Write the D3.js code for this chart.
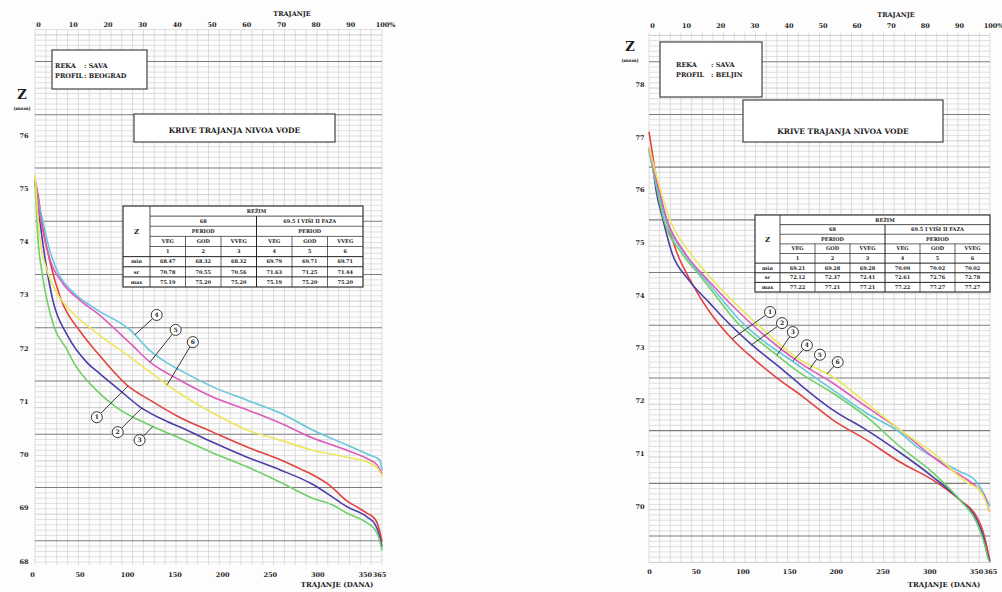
<!DOCTYPE html>
<html><head><meta charset="utf-8">
<script src="https://cdn.jsdelivr.net/npm/d3@7"></script>
<style>
body{margin:0;background:#fff}
svg{display:block}
text{font-family:"DejaVu Serif","Liberation Serif",serif;font-weight:bold;fill:#1e1e1e}
</style>
</head><body>
<svg width="1002" height="592"></svg>
<script>
// ---------------- DATA ----------------
const pctTicks = [0,10,20,30,40,50,60,70,80,90,100];
const pctLabels = ["0","10","20","30","40","50","60","70","80","90","100%"];
const dayTicks = [0,50,100,150,200,250,300,350,365];
const zTicksBG = [68,69,70,71,72,73,74,75,76];
const zTicksBJ = [70,71,72,73,74,75,76,77,78];
const curveIds = ["1","2","3","4","5","6"];
const curveColors = ["#e2433f","#4a3fa8","#70cf68","#66c6dc","#de5abc","#ece75c"];

// BEOGRAD  [day, Z]
const bg1 = [[0,75.15],[3,74.9],[7,74.4],[16,73.6],[27,72.93],[48,72.3],[66,71.9],[97,71.3],[121,71.02],[152,70.7],[187,70.42],[223,70.14],[258,69.9],[279,69.73],[292,69.62],[310,69.42],[328,69.13],[340,69.0],[349,68.9],[358,68.78],[362,68.6],[365,68.36]];
const bg2 = [[0,75.1],[2,74.85],[5,74.4],[12.6,73.46],[19,72.88],[34,72.24],[55,71.72],[68,71.52],[89,71.21],[110,70.9],[139,70.62],[152,70.52],[187,70.23],[223,69.95],[258,69.71],[292,69.44],[313,69.2],[328,69.02],[349,68.83],[358,68.68],[362,68.5],[365,68.26]];
const bg3 = [[0,75.1],[1.5,74.6],[3,74.08],[7,73.46],[12.6,72.9],[20,72.4],[34,71.96],[40,71.75],[65,71.2],[86,70.88],[121,70.55],[152,70.31],[187,70.03],[223,69.77],[258,69.48],[292,69.18],[313,69.05],[328,68.9],[349,68.72],[358,68.58],[362,68.42],[365,68.2]];
const bg4 = [[0,75.2],[3,74.8],[8,74.4],[16,73.8],[26,73.35],[40,73.05],[65,72.72],[100,72.34],[121,71.95],[139,71.72],[152,71.59],[187,71.27],[223,71.02],[258,70.78],[292,70.46],[328,70.18],[352,69.99],[360,69.93],[363,69.88],[365,69.7]];
const bg5 = [[0,75.15],[3,74.75],[8,74.22],[16,73.65],[29,73.22],[47,72.9],[65,72.66],[100,72.09],[122,71.72],[152,71.4],[187,71.08],[223,70.84],[258,70.59],[292,70.31],[328,70.08],[352,69.9],[360,69.8],[365,69.64]];
const bg6 = [[0,75.25],[2,74.7],[5,74.08],[12.6,73.46],[23,73.03],[37,72.71],[65,72.28],[100,71.83],[139,71.31],[152,71.15],[187,70.78],[223,70.46],[258,70.27],[292,70.08],[328,69.95],[352,69.84],[360,69.75],[365,69.6]];

// BELJIN  [day, Z]
const bj1 = [[0,77.1],[3,76.76],[6.4,76.38],[10.5,76.0],[17,75.52],[30,74.8],[44,74.29],[55,73.95],[67.5,73.62],[90,73.15],[113.5,72.77],[140,72.39],[162,72.11],[197,71.63],[233,71.25],[269,70.83],[304,70.49],[333,70.11],[351,69.79],[358,69.49],[362,69.2],[365,68.95]];
const bj2 = [[0,76.8],[4.3,76.4],[7.5,76.0],[15,75.43],[24.6,74.8],[42,74.3],[65,73.85],[78,73.6],[108,73.09],[143.5,72.58],[162,72.3],[197,71.82],[233,71.44],[269,71.01],[304,70.55],[333,70.11],[351,69.73],[358,69.41],[362,69.1],[365,68.94]];
const bj3 = [[0,76.75],[4.3,76.38],[8.6,76.0],[16,75.43],[35,74.8],[55,74.36],[71,74.0],[92,73.53],[130,72.96],[162,72.52],[197,72.14],[233,71.69],[269,71.12],[304,70.63],[333,70.11],[351,69.68],[360,69.22],[363,69.0],[365,68.94]];
const bj4 = [[0,76.75],[9.6,76.0],[18,75.43],[37.5,74.8],[65,74.2],[97,73.53],[162,72.64],[197,72.2],[233,71.76],[269,71.39],[287,71.12],[317,70.8],[333,70.65],[349,70.49],[358,70.25],[362,70.1],[365,70.0]];
const bj5 = [[0,76.78],[10.7,76.0],[19.3,75.43],[38.5,74.8],[65,74.25],[105,73.53],[162,72.71],[197,72.33],[233,71.88],[269,71.44],[304,70.93],[319,70.74],[338,70.53],[354,70.3],[361,70.11],[364,69.89]];
const bj6 = [[0,76.8],[11.8,76.03],[22.5,75.43],[44,74.8],[65,74.35],[111,73.53],[162,72.77],[197,72.45],[233,71.95],[269,71.44],[304,71.01],[340.5,70.44],[354,70.3],[360,70.11],[364,69.89]];

// table
const regimes = ["68","69.5  I  VIŠI  II  FAZA"];
const periods = ["VEG","GOD","VVEG"];
const statRows = ["min","sr","max"];
const bgMin = ["68.47","68.32","68.32","69.79","69.71","69.71"];
const bgAvg = ["70.78","70.55","70.56","71.63","71.25","71.44"];
const bgMax = ["75.19","75.20","75.20","75.19","75.20","75.20"];
const bjMin = ["69.21","69.28","69.28","70.09","70.02","70.02"];
const bjAvg = ["72.12","72.37","72.41","72.61","72.76","72.78"];
const bjMax = ["77.22","77.21","77.21","77.22","77.27","77.27"];

// curve label annotations: circle [day, Z] and leader target day on the curve
const bgLabelPos = [[65,70.70],[87,70.42],[110,70.27],[128,72.62],[148,72.34],[166,72.11]];
const bgLabelTarget = [98,112.5,124,105,121,139];
const bjLabelPos = [[129.6,73.68],[142.4,73.47],[154,73.30],[169,73.05],[183,72.87],[202,72.73]];
const bjLabelTarget = [89,110,137,154,172,190.6];

// ---------------- DRAW ----------------
const svg = d3.select("svg");
svg.append("rect").attr("width",1002).attr("height",592).attr("fill","#fdfdfd");

function zAt(data, d){
  const i = d3.bisector(p=>p[0]).left(data, d);
  if (i<=0) return data[0][1];
  if (i>=data.length) return data[data.length-1][1];
  const a=data[i-1], b=data[i];
  return a[1]+(b[1]-a[1])*(d-a[0])/(b[0]-a[0]);
}

function drawTable(g, o, mins, avgs, maxs){
  const rh = o.h/8, cw = (o.w-o.c0)/6, xd = o.x+o.c0;
  const t = g.append("g");
  t.append("rect").attr("x",o.x).attr("y",o.y).attr("width",o.w).attr("height",o.h)
    .attr("fill","#fff").attr("stroke","#222").attr("stroke-width",1.1);
  const L = (x1,y1,x2,y2,w)=>t.append("line").attr("x1",x1).attr("y1",y1).attr("x2",x2).attr("y2",y2)
    .attr("stroke","#222").attr("stroke-width",w||0.8);
  L(xd,o.y,xd,o.y+o.h);
  for(let r=1;r<=4;r++) L(xd,o.y+r*rh,o.x+o.w,o.y+r*rh, r===1?0.8:0.7);
  for(let r=5;r<=7;r++) L(o.x,o.y+r*rh,o.x+o.w,o.y+r*rh, 1);
  L(xd+3*cw,o.y+rh,xd+3*cw,o.y+o.h,1);
  [1,2,4,5].forEach(c=>L(xd+c*cw,o.y+3*rh,xd+c*cw,o.y+o.h,0.7));
  const T=(x,y,s,fs)=>t.append("text").attr("x",x).attr("y",y).attr("text-anchor","middle")
    .attr("dy","0.35em").attr("font-size",fs||5).text(s);
  T(xd+3*cw, o.y+0.5*rh, "REŽIM");
  regimes.forEach((s,i)=>T(xd+(i*3+1.5)*cw, o.y+1.5*rh, s));
  [0,1].forEach(i=>T(xd+(i*3+1.5)*cw, o.y+2.5*rh, "PERIOD"));
  for(let c=0;c<6;c++){
    T(xd+(c+0.5)*cw, o.y+3.5*rh, periods[c%3]);
    T(xd+(c+0.5)*cw, o.y+4.5*rh, curveIds[c]);
    T(xd+(c+0.5)*cw, o.y+5.5*rh, mins[c]);
    T(xd+(c+0.5)*cw, o.y+6.5*rh, avgs[c]);
    T(xd+(c+0.5)*cw, o.y+7.5*rh, maxs[c]);
  }
  T(o.x+o.c0/2, o.y+2.5*rh, "Z", 7);
  statRows.forEach((s,i)=>T(o.x+o.c0/2, o.y+(5.5+i)*rh, s));
}

function chart(o){
  const x = d3.scaleLinear().domain([0,365]).range([o.x0,o.x1]);
  const pct = d3.scaleLinear().domain([0,100]).range([o.x0,o.x1]);
  const y = d3.scaleLinear().domain(o.zDomain).range(o.yRange);
  const g = svg.append("g");

  // grid
  const gg = g.append("g");
  const vDays = d3.range(0, 365.001, 365/32);
  gg.selectAll("line.v").data(vDays).join("line").attr("class","v")
    .attr("x1",d=>x(d)).attr("x2",d=>x(d)).attr("y1",y(o.zHi)).attr("y2",y(o.zLo))
    .attr("stroke","#cfcfcf").attr("stroke-width",0.7);
  const hz=[];
  for(let n=Math.ceil((o.zLo-o.off)*10); n<=Math.floor((o.zHi-o.off)*10); n++) hz.push({z:o.off+n/10,n});
  gg.selectAll("line.h").data(hz).join("line").attr("class","h")
    .attr("x1",o.x0).attr("x2",o.x1).attr("y1",d=>y(d.z)).attr("y2",d=>y(d.z))
    .attr("stroke",d=>d.n%10===0?"#7c7c7c":(d.n%5===0?"#b9b9b9":"#d3d3d3"))
    .attr("stroke-width",d=>d.n%10===0?1.1:0.7);

  // axes
  const styleAxis = (a,fs)=>{ a.select(".domain").remove();
    a.attr("font-family",'"DejaVu Serif",serif').attr("font-weight","bold");
    a.selectAll("text").attr("font-size",fs).attr("fill","#1e1e1e"); };
  g.append("g").attr("transform",`translate(3,${o.topY})`)
    .call(d3.axisTop(pct).tickValues(pctTicks).tickFormat((d,i)=>pctLabels[i]).tickSize(0).tickPadding(0))
    .call(a=>styleAxis(a,6.5));
  g.append("g").attr("transform",`translate(${o.botDx},${o.botY})`)
    .call(d3.axisBottom(x).tickValues(dayTicks).tickFormat(d3.format("d")).tickSize(0).tickPadding(0))
    .call(a=>styleAxis(a,6.5));
  g.append("g").attr("transform",`translate(${o.yTickX},0)`)
    .call(d3.axisLeft(y).tickValues(o.zTicks).tickFormat(d3.format("d")).tickSize(0).tickPadding(0))
    .call(a=>{styleAxis(a,6.5); a.selectAll("text").attr("text-anchor","middle");});

  g.append("text").attr("x",o.trajX).attr("y",o.trajY).attr("text-anchor","middle").attr("font-size",6.5).text("TRAJANJE");
  g.append("text").attr("x",o.danaX).attr("y",585).attr("text-anchor","middle").attr("dy","0.35em").attr("font-size",7).text("TRAJANJE (DANA)");
  g.append("text").attr("x",o.zX).attr("y",o.zY).attr("text-anchor","middle").attr("dy","0.35em").attr("font-size",13).text("Z");
  g.append("text").attr("x",o.zX).attr("y",o.zY+14).attr("text-anchor","middle").attr("dy","0.35em").attr("font-size",4.5).text("(mnm)");

  // info box
  const ib=o.info;
  g.append("rect").attr("x",ib.x).attr("y",ib.y).attr("width",ib.w).attr("height",ib.h)
    .attr("fill","#fff").attr("stroke","#333").attr("stroke-width",1.1);
  [["REKA",": SAVA"],["PROFIL",": "+o.profil]].forEach((p,i)=>{
    g.append("text").attr("x",ib.tx).attr("y",ib.ty+i*10).attr("dy","0.35em").attr("font-size",6.5).text(p[0]);
    g.append("text").attr("x",ib.cx).attr("y",ib.ty+i*10).attr("dy","0.35em").attr("font-size",6.5).text(p[1]);
  });
  // title box
  const tb=o.title;
  g.append("rect").attr("x",tb.x).attr("y",tb.y).attr("width",tb.w).attr("height",tb.h)
    .attr("fill","#fff").attr("stroke","#333").attr("stroke-width",1.1);
  g.append("text").attr("x",tb.x+tb.w/2).attr("y",tb.ty).attr("text-anchor","middle").attr("dy","0.35em")
    .attr("font-size",7.5).text("KRIVE TRAJANJA NIVOA VODE");

  drawTable(g, o.table, o.mins, o.avgs, o.maxs);

  // curves
  const line = d3.line().x(d=>x(d[0])).y(d=>y(d[1])).curve(d3.curveMonotoneX);
  o.curves.forEach((c,i)=>{
    g.append("path").attr("d",line(c)).attr("fill","none").attr("stroke",curveColors[i])
      .attr("stroke-width",1.6).attr("stroke-linejoin","round");
  });

  // labels
  const r=5.5;
  o.labelPos.forEach((p,i)=>{
    const cx=x(p[0]), cy=y(p[1]);
    const td=o.labelTarget[i], tx=x(td), ty=y(zAt(o.curves[i],td));
    const dx=tx-cx, dy=ty-cy, len=Math.hypot(dx,dy);
    g.append("line").attr("x1",cx+dx/len*r).attr("y1",cy+dy/len*r).attr("x2",tx).attr("y2",ty)
      .attr("stroke","#222").attr("stroke-width",0.9);
    g.append("circle").attr("cx",cx).attr("cy",cy).attr("r",r).attr("fill","#fff")
      .attr("stroke","#222").attr("stroke-width",0.9);
    g.append("text").attr("x",cx).attr("y",cy).attr("text-anchor","middle").attr("dy","0.35em")
      .attr("font-size",6).text(curveIds[i]);
  });
}

chart({
  x0:35, x1:382, zDomain:[68,76], yRange:[561,135], zLo:67.92, zHi:77.98, off:0.38,
  zTicks:zTicksBG, topY:27, botY:572, botDx:-3, yTickX:24,
  trajX:292, trajY:16, danaX:337, zX:22, zY:94, profil:"BEOGRAD",
  info:{x:52,y:50,w:95,h:39,tx:55,cx:84,ty:66},
  title:{x:134,y:114,w:201,h:28,ty:130},
  table:{x:123,y:206,w:240,h:81,c0:27},
  mins:bgMin, avgs:bgAvg, maxs:bgMax,
  curves:[bg1,bg2,bg3,bg4,bg5,bg6], labelPos:bgLabelPos, labelTarget:bgLabelTarget
});
chart({
  x0:649, x1:990, zDomain:[70,77], yRange:[506,137.1], zLo:68.92, zHi:78.98, off:0.43,
  zTicks:zTicksBJ, topY:28, botY:569, botDx:0, yTickX:640,
  trajX:896, trajY:17, danaX:944, zX:630, zY:46, profil:"BELJIN",
  info:{x:660,y:42,w:102,h:55,tx:676,cx:711,ty:65},
  title:{x:743,y:100,w:200,h:42,ty:131},
  table:{x:755,y:215,w:235,h:77,c0:25},
  mins:bjMin, avgs:bjAvg, maxs:bjMax,
  curves:[bj1,bj2,bj3,bj4,bj5,bj6], labelPos:bjLabelPos, labelTarget:bjLabelTarget
});
</script>
</body></html>
